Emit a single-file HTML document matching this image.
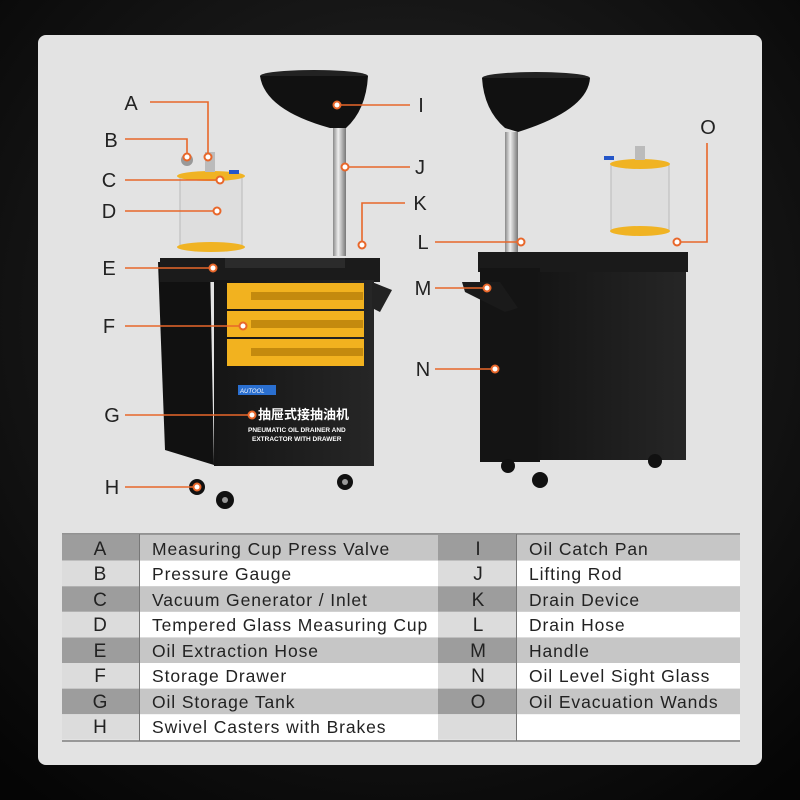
<!DOCTYPE html>
<html><head><meta charset="utf-8"><style>
html,body{margin:0;padding:0;width:800px;height:800px;overflow:hidden;background:#0e0e0e}
svg{display:block}
text{font-family:"Liberation Sans","Noto Sans CJK SC",sans-serif}
</style></head><body>
<svg width="800" height="800" viewBox="0 0 800 800" xmlns="http://www.w3.org/2000/svg">
<defs>
<radialGradient id="bg" cx="50%" cy="40%" r="75%"><stop offset="0" stop-color="#2a2a2a"/><stop offset="1" stop-color="#050505"/></radialGradient>
<linearGradient id="pole" x1="0" x2="1"><stop offset="0" stop-color="#888"/><stop offset=".4" stop-color="#eee"/><stop offset="1" stop-color="#777"/></linearGradient>
<linearGradient id="body" x1="0" x2="1"><stop offset="0" stop-color="#151515"/><stop offset="1" stop-color="#262626"/></linearGradient>
</defs>
<rect width="800" height="800" fill="url(#bg)"/>
<rect x="38" y="35" width="724" height="730" rx="8" fill="#e3e3e3"/>

<!-- LEFT MACHINE -->
<ellipse cx="314" cy="76" rx="54" ry="6" fill="#222"/>
<path d="M260 76 Q265 110 330 128 L346 128 Q366 110 368 76 Z" fill="#111"/>
<rect x="333" y="128" width="13" height="128" fill="url(#pole)"/>
<rect x="180" y="176" width="62" height="70" fill="#dcdcdc" stroke="#aaa" opacity=".7"/>
<ellipse cx="211" cy="176" rx="34" ry="5" fill="#f0b323"/>
<ellipse cx="211" cy="247" rx="34" ry="5" fill="#f0b323"/>
<rect x="205" y="152" width="10" height="20" fill="#bbb"/>
<circle cx="187" cy="160" r="6" fill="#999"/>
<rect x="229" y="170" width="10" height="4" fill="#2456c8"/>
<path d="M158 262 L210 262 L214 465 L165 450 Z" fill="#111"/>
<rect x="160" y="258" width="220" height="24" fill="#1b1b1b"/>
<rect x="225" y="258" width="120" height="10" fill="#2b2b2b"/>
<rect x="214" y="280" width="160" height="186" fill="url(#body)"/>
<path d="M372 282 L392 290 L380 312 L372 308 Z" fill="#222"/>
<g fill="#f2b21f">
<rect x="227" y="283" width="137" height="26"/>
<rect x="227" y="311" width="137" height="26"/>
<rect x="227" y="339" width="137" height="27"/>
</g>
<g fill="#c48a0e"><rect x="251" y="292" width="112" height="8"/><rect x="251" y="320" width="112" height="8"/><rect x="251" y="348" width="112" height="8"/></g>
<rect x="238" y="385" width="38" height="10" fill="#2a6fd0"/>
<text x="240" y="393" font-size="6" fill="#fff" font-style="italic">AUTOOL</text>
<text x="258" y="419" font-size="13" fill="#fff" font-weight="bold">抽屉式接抽油机</text>
<text x="248" y="432" font-size="6.5" fill="#fff" font-weight="bold">PNEUMATIC OIL DRAINER AND</text>
<text x="252" y="441" font-size="6.5" fill="#fff" font-weight="bold">EXTRACTOR WITH DRAWER</text>
<g fill="#111"><circle cx="197" cy="487" r="8"/><circle cx="225" cy="500" r="9"/><circle cx="345" cy="482" r="8"/></g>
<g fill="#999"><circle cx="197" cy="487" r="3"/><circle cx="225" cy="500" r="3"/><circle cx="345" cy="482" r="3"/></g>

<!-- RIGHT MACHINE -->
<ellipse cx="536" cy="78" rx="54" ry="6" fill="#222"/>
<path d="M482 78 Q484 110 505 128 L518 132 Q588 110 590 78 Z" fill="#111"/>
<rect x="505" y="132" width="13" height="124" fill="url(#pole)"/>
<rect x="611" y="164" width="58" height="66" fill="#dcdcdc" stroke="#aaa" opacity=".7"/>
<ellipse cx="640" cy="164" rx="30" ry="5" fill="#f0b323"/>
<ellipse cx="640" cy="231" rx="30" ry="5" fill="#f0b323"/>
<rect x="635" y="146" width="10" height="14" fill="#bbb"/>
<rect x="604" y="156" width="10" height="4" fill="#2456c8"/>
<rect x="478" y="252" width="210" height="20" fill="#1a1a1a"/>
<rect x="480" y="268" width="60" height="194" fill="#141414"/>
<rect x="538" y="272" width="148" height="188" fill="url(#body)"/>
<path d="M462 282 L500 282 L518 308 L505 312 L465 292 Z" fill="#1a1a1a"/>
<g fill="#111"><circle cx="508" cy="466" r="7"/><circle cx="540" cy="480" r="8"/><circle cx="655" cy="461" r="7"/></g>

<!-- CALLOUTS -->
<g stroke="#e8672a" stroke-width="1.6" fill="none">
<path d="M150 102 H208 V157"/><path d="M125 139 H187 V157"/>
<path d="M125 180 H220"/><path d="M125 211 H217"/><path d="M125 268 H213"/>
<path d="M125 326 H243"/><path d="M125 415 H252"/><path d="M125 487 H197"/>
<path d="M337 105 H410"/><path d="M345 167 H410"/><path d="M405 203 H362 V245"/>
<path d="M435 242 H521"/><path d="M435 288 H487"/><path d="M435 369 H495"/>
<path d="M707 143 V242 H677"/>
</g>
<g fill="#fff" stroke="#e8672a" stroke-width="2">
<circle cx="208" cy="157" r="3.5"/><circle cx="187" cy="157" r="3.5"/><circle cx="220" cy="180" r="3.5"/>
<circle cx="217" cy="211" r="3.5"/><circle cx="213" cy="268" r="3.5"/><circle cx="243" cy="326" r="3.5"/>
<circle cx="252" cy="415" r="3.5"/><circle cx="197" cy="487" r="3.5"/><circle cx="337" cy="105" r="3.5"/>
<circle cx="345" cy="167" r="3.5"/><circle cx="362" cy="245" r="3.5"/><circle cx="521" cy="242" r="3.5"/>
<circle cx="487" cy="288" r="3.5"/><circle cx="495" cy="369" r="3.5"/><circle cx="677" cy="242" r="3.5"/>
</g>
<g font-size="20" fill="#222" text-anchor="middle">
<text x="131" y="110">A</text><text x="111" y="147">B</text><text x="109" y="187">C</text>
<text x="109" y="218">D</text><text x="109" y="275">E</text><text x="109" y="333">F</text>
<text x="112" y="422">G</text><text x="112" y="494">H</text>
<text x="421" y="112">I</text><text x="420" y="174">J</text><text x="420" y="210">K</text>
<text x="423" y="249">L</text><text x="423" y="295">M</text><text x="423" y="376">N</text>
<text x="708" y="134">O</text>
</g>

<!-- TABLE -->
<g>
<rect x="62" y="534" width="678" height="208" fill="#fff"/>
<g fill="#c6c6c6">
<rect x="62" y="535" width="678" height="25.6"/><rect x="62" y="586.2" width="678" height="25.6"/>
<rect x="62" y="637.4" width="678" height="25.6"/><rect x="62" y="688.6" width="678" height="25.6"/>
</g>
<g fill="#9d9d9d">
<rect x="62" y="535" width="77" height="25.6"/><rect x="62" y="586.2" width="77" height="25.6"/>
<rect x="62" y="637.4" width="77" height="25.6"/><rect x="62" y="688.6" width="77" height="25.6"/>
<rect x="438" y="535" width="79" height="25.6"/><rect x="438" y="586.2" width="79" height="25.6"/>
<rect x="438" y="637.4" width="79" height="25.6"/><rect x="438" y="688.6" width="79" height="25.6"/>
</g>
<g fill="#dcdcdc">
<rect x="62" y="560.6" width="77" height="25.6"/><rect x="62" y="611.8" width="77" height="25.6"/>
<rect x="62" y="663" width="77" height="25.6"/><rect x="62" y="714.2" width="77" height="25.6"/>
<rect x="438" y="560.6" width="79" height="25.6"/><rect x="438" y="611.8" width="79" height="25.6"/>
<rect x="438" y="663" width="79" height="25.6"/><rect x="438" y="714.2" width="79" height="25.6"/>
</g>
<line x1="62" y1="534" x2="740" y2="534" stroke="#777" stroke-width="1.5"/>
<line x1="62" y1="741" x2="740" y2="741" stroke="#777" stroke-width="1.5"/>
<line x1="139.5" y1="534" x2="139.5" y2="741" stroke="#777"/>
<line x1="516.5" y1="534" x2="516.5" y2="741" stroke="#777"/>
<g font-size="18" fill="#222">
<g text-anchor="middle" font-size="19">
<text x="100" y="555">A</text><text x="100" y="580">B</text><text x="100" y="606">C</text><text x="100" y="631">D</text>
<text x="100" y="657">E</text><text x="100" y="682">F</text><text x="100" y="708">G</text><text x="100" y="733">H</text>
<text x="478" y="555">I</text><text x="478" y="580">J</text><text x="478" y="606">K</text><text x="478" y="631">L</text>
<text x="478" y="657">M</text><text x="478" y="682">N</text><text x="478" y="708">O</text>
</g>
<g font-size="17.5" letter-spacing="0.9">
<text x="152" y="555">Measuring Cup Press Valve</text><text x="152" y="580">Pressure Gauge</text>
<text x="152" y="606">Vacuum Generator / Inlet</text><text x="152" y="631">Tempered Glass Measuring Cup</text>
<text x="152" y="657">Oil Extraction Hose</text><text x="152" y="682">Storage Drawer</text>
<text x="152" y="708">Oil Storage Tank</text><text x="152" y="733">Swivel Casters with Brakes</text>
<text x="529" y="555">Oil Catch Pan</text><text x="529" y="580">Lifting Rod</text>
<text x="529" y="606">Drain Device</text><text x="529" y="631">Drain Hose</text>
<text x="529" y="657">Handle</text><text x="529" y="682">Oil Level Sight Glass</text>
<text x="529" y="708">Oil Evacuation Wands</text>
</g>
</g>
</g>
</svg>
</body></html>
